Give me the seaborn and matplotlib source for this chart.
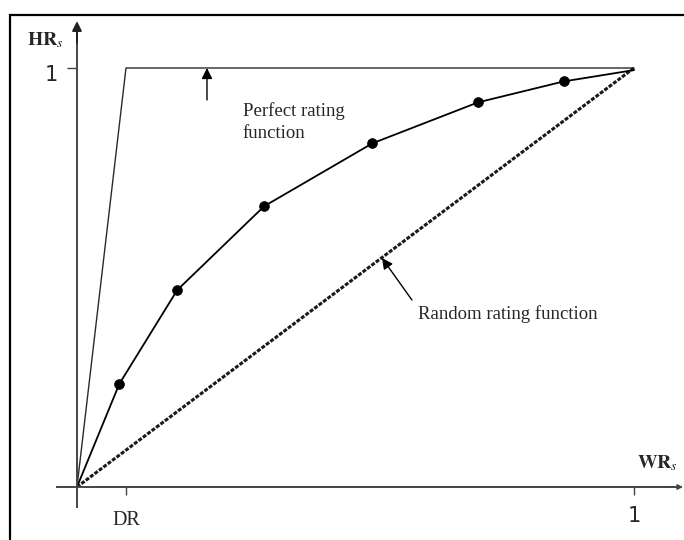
import matplotlib
matplotlib.use("Agg")
import matplotlib.pyplot as plt
import matplotlib.patches as mpatches
import matplotlib.transforms as mtransforms
import seaborn as sns
import pandas as pd

sns.set_style("white")
plt.rcParams["font.family"] = ["Liberation Serif", "DejaVu Serif"]
plt.rcParams["mathtext.fontset"] = "stix"

# Cumulative accuracy profile (CAP) of a rating function
wr_share = [0.0, 0.076, 0.180, 0.336, 0.530, 0.720, 0.874, 1.0]
hr_share = [0.0, 0.246, 0.470, 0.670, 0.820, 0.918, 0.968, 0.995]

# Default rate DR and the two reference rating functions
default_rate = 0.088
perfect_x = [0.0, default_rate, 1.0]
perfect_y = [0.0, 1.0, 1.0]
random_x = [0.0, 1.0]
random_y = [0.0, 1.0]

x_ticks = [default_rate, 1.0]
x_tick_labels = ["DR", "1"]
y_ticks = [1.0]
y_tick_labels = ["1"]

curve = pd.DataFrame({"WR": wr_share, "HR": hr_share})

fig = plt.figure(figsize=(6.84, 5.40), dpi=100)
ax = fig.add_axes([0, 0, 1, 1])
ax.set_xlim(-0.1382, 1.0898)
ax.set_ylim(-0.1265, 1.1623)
ax.patch.set_alpha(0)

# outer frame
fig.patches.append(mpatches.Rectangle((10 / 684, -0.2), 1.2, 1.2 - 15 / 540,
                                      transform=fig.transFigure, fill=False,
                                      edgecolor="black", linewidth=1.6, clip_on=False))

# reference lines
sns.lineplot(x=perfect_x, y=perfect_y, ax=ax, color="#2a2a2a", linewidth=1.0,
             sort=False, estimator=None)
sns.lineplot(x=random_x, y=random_y, ax=ax, color="#1a1a1a", linewidth=2.2,
             linestyle=(0, (1.3, 0.5)), sort=False, estimator=None)

# CAP curve with markers on the inner points
sns.lineplot(data=curve, x="WR", y="HR", ax=ax, color="black", linewidth=1.3,
             sort=False, estimator=None)
sns.scatterplot(data=curve.iloc[1:-1], x="WR", y="HR", ax=ax, color="black",
                s=50, edgecolor="black", linewidth=0.5, zorder=5)

# axes through the origin
axis_color = "#444444"
for side in ("top", "right"):
    ax.spines[side].set_visible(False)
ax.spines["left"].set_position(("data", 0))
ax.spines["bottom"].set_position(("data", 0))
ax.spines["left"].set_bounds(-0.048, 1.10)
ax.spines["bottom"].set_bounds(-0.036, 1.08)
for side in ("left", "bottom"):
    ax.spines[side].set_color(axis_color)
    ax.spines[side].set_linewidth(1.4)
ax.annotate("", xy=(0, 1.112), xytext=(0, 1.06),
            arrowprops=dict(arrowstyle="-|>", color="#222222", lw=1.4,
                            mutation_scale=14, shrinkA=0, shrinkB=0))
ax.annotate("", xy=(1.088, 0), xytext=(1.05, 0),
            arrowprops=dict(arrowstyle="-|>", color=axis_color, lw=1.0,
                            mutation_scale=8, shrinkA=0, shrinkB=0))

ax.set_xticks(x_ticks)
ax.set_xticklabels(x_tick_labels)
ax.set_yticks(y_ticks)
ax.set_yticklabels(y_tick_labels)
ax.tick_params(axis="x", bottom=True, direction="out", length=6, width=1.0,
               color=axis_color, pad=11)
ax.tick_params(axis="y", left=True, direction="out", length=7, width=1.0,
               color=axis_color, pad=7)
dr_lbl, one_x_lbl = ax.get_xticklabels()
dr_lbl.set_fontsize(14.5)
one_x_lbl.set_fontsize(15)
one_x_lbl.set_family("DejaVu Sans")
one_x_lbl.set_transform(one_x_lbl.get_transform() +
                        mtransforms.ScaledTranslation(0, 3.5 / 72, fig.dpi_scale_trans))
one_y_lbl = ax.get_yticklabels()[0]
one_y_lbl.set_fontsize(15)
one_y_lbl.set_family("DejaVu Sans")
one_y_lbl.set_transform(one_y_lbl.get_transform() +
                        mtransforms.ScaledTranslation(0, -3.5 / 72, fig.dpi_scale_trans))
ax.set_xlabel("")
ax.set_ylabel("")

# axis titles
ax.text(-0.0575, 1.067, r"$\mathbf{HR}_{\mathit{s}}$", fontsize=14,
        ha="center", va="center")
ax.text(1.043, 0.057, r"$\mathbf{WR}_{\mathit{s}}$", fontsize=14,
        ha="center", va="center")

# annotations
ax.annotate("", xy=(0.2334, 1.0), xytext=(0.2334, 0.9236),
            arrowprops=dict(arrowstyle="-|>", color="black", lw=1.0,
                            mutation_scale=16, shrinkA=0, shrinkB=0))
ax.text(0.298, 0.918, "Perfect rating\nfunction", fontsize=13.5,
        ha="left", va="top", linespacing=1.4)
ax.annotate("", xy=(0.5476, 0.5465), xytext=(0.6014, 0.4463),
            arrowprops=dict(arrowstyle="-|>", color="black", lw=1.0,
                            mutation_scale=16, shrinkA=0, shrinkB=0))
ax.text(0.612, 0.413, "Random rating function", fontsize=13.5,
        ha="left", va="center")

fig.savefig("out.png", dpi=100)
